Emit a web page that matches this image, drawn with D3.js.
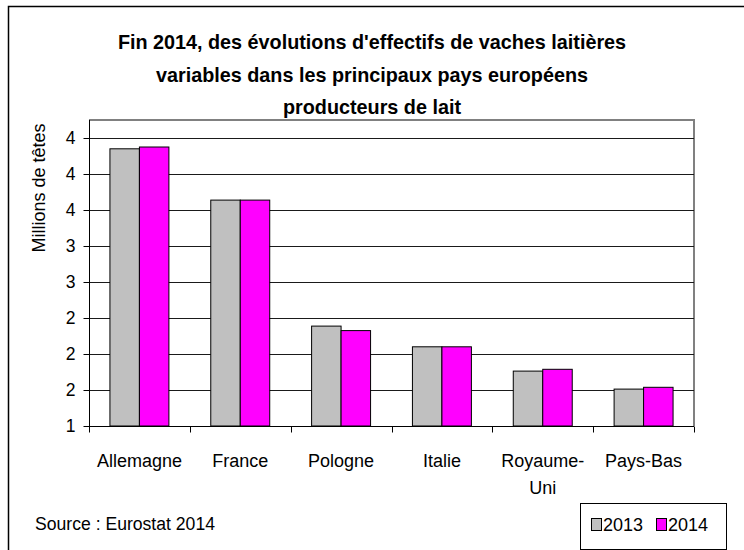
<!DOCTYPE html>
<html><head><meta charset="utf-8">
<script src="https://cdn.jsdelivr.net/npm/d3@7"></script>
<style>body{margin:0;background:#fff}svg{display:block;font-family:"Liberation Sans",Arial,sans-serif}</style>
</head><body><svg id="c" width="744" height="550"></svg>
<script>
const categories = ["Allemagne","France","Pologne","Italie","Royaume-Uni","Pays-Bas"];
const categoryLabels = [["Allemagne"],["France"],["Pologne"],["Italie"],["Royaume-","Uni"],["Pays-Bas"]];
const seriesNames = ["2013","2014"];
const values2013 = [4.28,3.71,2.31,2.08,1.81,1.61];
const values2014 = [4.30,3.71,2.26,2.08,1.83,1.63];
const seriesColors = ["#C0C0C0","#FF00FF"];
const yTicks = [1.2,1.6,2.0,2.4,2.8,3.2,3.6,4.0,4.4];
const titleLines = ["Fin 2014, des évolutions d'effectifs de vaches laitières","variables dans les principaux pays européens","producteurs de lait"];
const yTitle = "Millions de têtes";
const sourceText = "Source : Eurostat 2014";

const svg = d3.select("#c");
const L=89,R=694,T=120,B=426;
// outer frame
svg.append("path").attr("d","M8.5,550 V6.5 H744").attr("fill","none").attr("stroke","#000").attr("stroke-width",1.5);

const x = d3.scaleBand().domain(categories).range([L,R]).paddingInner(0).paddingOuter(0);
const xs = d3.scaleBand().domain(seriesNames).range([0,x.bandwidth()]).paddingInner(0).paddingOuter(0.71);
const y = d3.scaleLinear().domain([1.2,4.6]).range([B,T]);

// title
svg.append("g").selectAll("text").data(titleLines).join("text")
  .attr("x",372).attr("y",(d,i)=>49+i*32.5).attr("text-anchor","middle")
  .attr("font-size",19.8).attr("font-weight","bold").attr("fill","#000")
  .text(d=>d);

// plot border top/right
svg.append("path").attr("d",`M${L},${T} H${R} V${B}`).attr("fill","none").attr("stroke","#808080").attr("stroke-width",2);

// gridlines
svg.append("g").selectAll("line").data(yTicks.slice(1)).join("line")
  .attr("x1",L).attr("x2",R).attr("y1",d=>Math.round(y(d))+0.5).attr("y2",d=>Math.round(y(d))+0.5)
  .attr("stroke","#1a1a1a").attr("stroke-width",1);

// bars
const data = categories.map((c,i)=>({c, v:[values2013[i],values2014[i]]}));
const g = svg.append("g").selectAll("g").data(data).join("g").attr("transform",d=>`translate(${x(d.c)},0)`);
g.selectAll("rect").data(d=>d.v.map((v,j)=>({s:seriesNames[j],v,col:seriesColors[j]}))).join("rect")
  .attr("x",d=>xs(d.s)).attr("width",xs.bandwidth())
  .attr("y",d=>y(d.v)).attr("height",d=>B-y(d.v))
  .attr("fill",d=>d.col).attr("stroke","#000").attr("stroke-width",1);

// y axis
const yAxis = d3.axisLeft(y).tickValues(yTicks).tickFormat(d3.format(".0f")).tickSize(6).tickPadding(8);
const ya = svg.append("g").attr("transform",`translate(${L+0.5},0)`).call(yAxis);
ya.select(".domain").attr("d",`M-0,${T}V${B}`).attr("stroke","#000");
ya.selectAll(".tick line").attr("stroke","#000");
ya.selectAll("text").attr("font-size",17.5).attr("font-family","Liberation Sans, Arial, sans-serif").attr("fill","#000");

// x axis
const xa = svg.append("g").attr("transform",`translate(0,${B+0.5})`);
xa.append("line").attr("x1",L).attr("x2",R).attr("stroke","#000");
const bounds = categories.map(c=>x(c)).concat([R]);
xa.selectAll("line.t").data(bounds).join("line").attr("class","t")
  .attr("x1",d=>Math.round(d)+0.5).attr("x2",d=>Math.round(d)+0.5).attr("y1",0).attr("y2",6).attr("stroke","#000");
const xl = svg.append("g").selectAll("text").data(categories).join("text")
  .attr("x",d=>x(d)+x.bandwidth()/2).attr("y",466.5).attr("text-anchor","middle").attr("font-size",18).attr("fill","#000");
xl.each(function(d,i){
  d3.select(this).selectAll("tspan").data(categoryLabels[i]).join("tspan")
    .attr("x",x(d)+x.bandwidth()/2).attr("dy",(t,k)=>k===0?0:27).text(t=>t);
});

// y title
svg.append("text").attr("transform","translate(45,188) rotate(-90)").attr("text-anchor","middle")
  .attr("font-size",18).attr("fill","#000").text(yTitle);

// source
svg.append("text").attr("x",35).attr("y",529.5).attr("font-size",17.6).attr("fill","#000").text(sourceText);

// legend
const lg = svg.append("g");
lg.append("rect").attr("x",580.5).attr("y",503.5).attr("width",146).attr("height",46).attr("fill","#fff").attr("stroke","#000");
const items = lg.selectAll("g").data(seriesNames).join("g").attr("transform",(d,i)=>`translate(${591+i*65},0)`);
items.append("rect").attr("x",0.5).attr("y",518.5).attr("width",10).attr("height",12).attr("fill",(d,i)=>seriesColors[i]).attr("stroke","#000");
items.append("text").attr("x",12).attr("y",530.5).attr("font-size",18).attr("fill","#000").text(d=>d);
</script></body></html>
